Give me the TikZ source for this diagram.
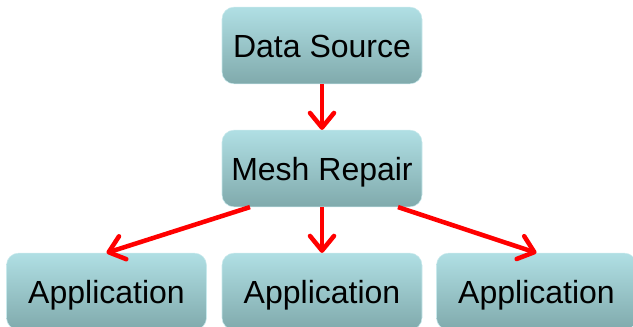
\documentclass[tikz,border=0pt]{standalone}
\usepackage{fontspec}
\setmainfont{Liberation Sans}
\usetikzlibrary{arrows.meta,positioning}
\definecolor{boxtop}{RGB}{176,223,228}
\definecolor{boxbot}{RGB}{128,170,172}
\tikzset{flow/.style={draw=red, line width=3.4pt, -{Straight Barb[length=11pt,width=18pt,line width=3.4pt,round]}},
  stage/.style={rounded corners=9pt, top color=boxtop, bottom color=boxbot, draw=boxtop!70!white, line width=0.4pt,
    minimum width=150pt, minimum height=57.5pt, inner sep=0pt, text height=19pt, text depth=1.5pt,
    font=\fontsize{24}{28}\selectfont, text=black}}
\begin{document}
\begin{tikzpicture}[x=0.75pt,y=-0.75pt]
  \useasboundingbox (0,0) rectangle (633,327);
  % stages
  \node[stage] (src)  at (322,45.5)  {Data Source};
  \node[stage] (fix)  at (322,168.5) {Mesh Repair};
  \node[stage] (appl) at (106.5,291.5) {Application};
  \node[stage] (appm) at (322,291.5) {Application};
  \node[stage] (appr) at (536.5,291.5) {Application};
  % arrows
  \draw[flow] (src.south) -- (fix.north);
  \draw[flow] ([xshift=-54pt]fix.south) -- (appl.north);
  \draw[flow] (fix.south) -- (appm.north);
  \draw[flow] ([xshift=57pt]fix.south) -- (appr.north);
\end{tikzpicture}
\end{document}
